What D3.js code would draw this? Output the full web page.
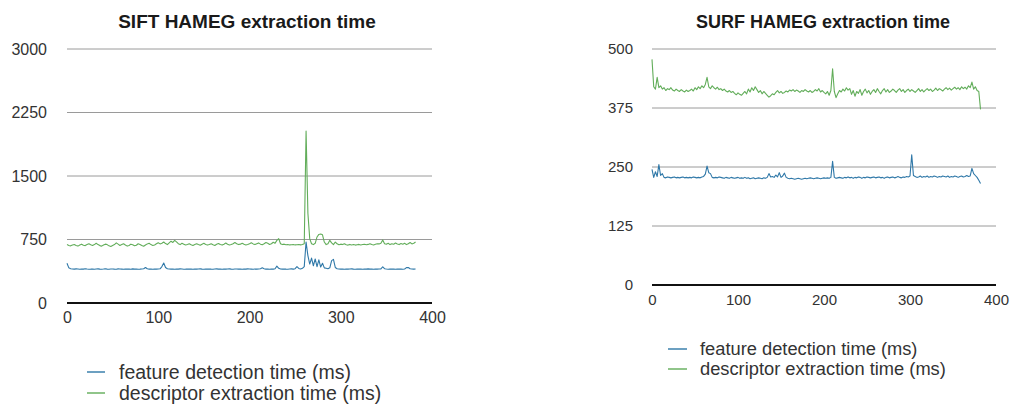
<!DOCTYPE html>
<html><head><meta charset="utf-8">
<script src="https://cdn.jsdelivr.net/npm/d3@7"></script>
<style>
html,body{margin:0;padding:0;background:#fff;}
svg{display:block;font-family:"Liberation Sans",Arial,Helvetica,sans-serif;}
</style></head>
<body><svg id="c" width="1011" height="408"></svg>
<script>
// sample spacing on the x axis (frame index step)
const sampleStep = 2;
const xTicks = [0, 100, 200, 300, 400];
const siftYTicks = [0, 750, 1500, 2250, 3000];
const surfYTicks = [0, 125, 250, 375, 500];
const seriesNames = ["feature detection time (ms)", "descriptor extraction time (ms)"];
const titles = ["SIFT HAMEG extraction time", "SURF HAMEG extraction time"];

const siftDetect = [
470,415,405,402,400,403,401,399,402,400,
404,401,399,400,402,398,401,403,400,399,
401,404,400,398,401,402,400,399,403,401,
400,398,402,400,401,399,403,400,401,399,
400,402,405,420,404,400,401,399,402,400,
401,404,430,472,420,405,401,400,402,399,
401,400,403,401,399,400,402,400,401,399,
402,400,401,403,400,399,401,400,402,400,
399,401,403,400,401,399,402,400,401,403,
400,399,401,402,400,401,399,402,400,403,
401,400,399,402,400,401,404,415,405,400,
401,399,402,400,405,435,410,401,400,402,
400,399,401,403,400,405,430,408,402,410,
430,720,560,460,530,440,520,430,510,425,
470,415,410,405,415,500,515,420,405,402,
400,401,399,402,400,401,403,400,399,401,
400,402,399,401,400,403,400,401,399,402,
400,401,402,428,405,401,399,402,400,401,
399,402,400,401,399,402,418,420,405,402,
400,401];

const siftDescr = [
690,680,675,685,690,680,672,685,695,682,
678,690,700,688,680,690,705,690,678,672,
685,695,690,675,668,680,690,710,695,680,
690,700,685,672,680,695,688,676,682,700,
692,680,670,685,698,705,690,680,686,700,
712,698,705,720,702,690,710,730,715,740,
722,700,690,705,695,685,690,700,688,680,
692,700,690,682,695,705,692,684,690,700,
688,680,694,702,690,684,695,708,694,686,
690,700,714,700,690,695,706,694,686,692,
700,712,698,690,700,710,695,688,700,715,
705,692,700,718,705,740,760,700,690,695,
688,690,686,688,690,686,688,690,687,690,
700,2030,1060,760,700,690,705,780,810,815,
805,720,690,700,740,710,690,720,700,688,
695,690,700,688,684,692,686,690,684,688,
692,686,690,694,688,692,700,690,686,694,
700,698,705,745,700,695,705,690,700,694,
708,696,690,702,695,705,690,700,715,698,
705,720];

const surfDetect = [
245,228,240,230,255,232,236,228,227,229,
228,227,228,229,227,228,227,228,229,227,
228,227,228,227,229,228,227,228,227,229,
230,235,252,238,236,228,227,228,227,229,
228,227,226,228,227,226,228,227,226,227,
228,226,227,226,228,226,227,225,226,227,
225,226,227,226,225,227,226,228,236,229,
230,228,233,229,238,228,231,237,228,226,
225,226,225,224,225,226,225,224,225,226,
225,226,227,226,225,226,227,226,225,226,
227,226,227,226,228,262,228,226,227,228,
227,226,228,227,229,227,228,226,228,227,
229,228,226,228,227,229,228,227,228,229,
227,228,229,227,228,226,228,229,227,228,
229,227,228,230,228,227,229,228,230,229,
231,276,232,230,228,229,231,228,230,229,
231,228,230,229,231,230,228,230,229,231,
230,229,231,228,230,229,231,230,228,230,
231,229,230,232,230,231,247,236,232,228,
222,215];

const surfDescr = [
478,420,415,440,418,422,415,418,412,416,
414,418,413,411,415,412,410,414,411,409,
413,410,412,415,411,418,414,420,416,422,
418,425,440,420,416,422,418,415,419,414,
416,412,415,411,409,412,408,410,406,403,
407,404,402,406,410,405,415,409,418,412,
420,414,408,412,405,410,406,402,398,401,
405,403,408,412,407,410,406,408,411,409,
413,411,414,410,413,411,408,412,410,414,
411,409,412,408,410,414,411,416,409,412,
408,405,410,402,412,458,410,397,405,412,
409,415,411,418,413,416,404,412,400,410,
406,414,402,410,415,407,412,404,410,414,
408,416,410,405,412,416,409,414,408,411,
415,412,408,413,416,410,414,408,412,415,
410,414,411,408,412,416,410,414,409,413,
416,412,415,410,413,417,412,416,414,411,
415,418,414,417,413,416,419,415,418,414,
420,416,419,415,422,418,430,415,420,412,
410,372];

const colors = ["#2f78a8", "#62ad5a"];
const svg = d3.select("#c");

function chart(cfg) {
  const x = d3.scaleLinear().domain([0, 400]).range([cfg.x0, cfg.x1]);
  const y = d3.scaleLinear().domain([0, cfg.yTicks[cfg.yTicks.length - 1]]).range([cfg.y0, cfg.y1]);
  const g = svg.append("g");
  g.append("text").attr("x", cfg.titleX).attr("y", 28).attr("text-anchor", "middle")
    .attr("font-size", cfg.titleSize).attr("font-weight", "bold").attr("fill", "#1a1a1a").text(cfg.title);
  g.selectAll(".grid").data(cfg.yTicks.filter(d => d > 0)).join("line")
    .attr("x1", cfg.x0).attr("x2", cfg.x1).attr("y1", d => y(d)).attr("y2", d => y(d))
    .attr("stroke", "#9a9a9a").attr("stroke-width", 1);
  const ya = d3.axisLeft(y).tickValues(cfg.yTicks).tickFormat(d3.format("d")).tickSize(0).tickPadding(0);
  const yg = g.append("g").attr("transform", `translate(${cfg.yLabelX},0)`).call(ya);
  yg.select(".domain").remove();
  yg.selectAll("text").attr("font-size", cfg.tickSize).attr("fill", "#333")
    .attr("font-family", '"Liberation Sans",Arial,sans-serif');
  const xa = d3.axisBottom(x).tickValues(xTicks).tickFormat(d3.format("d")).tickSize(0).tickPadding(cfg.xPad);
  const xg = g.append("g").attr("transform", `translate(0,${cfg.y0})`).call(xa);
  xg.select(".domain").remove();
  xg.selectAll("text").attr("font-size", cfg.tickSize).attr("fill", "#333")
    .attr("font-family", '"Liberation Sans",Arial,sans-serif');
  g.append("line").attr("x1", cfg.x0).attr("x2", cfg.x1).attr("y1", y(0)).attr("y2", y(0))
    .attr("stroke", "#111").attr("stroke-width", 2);
  const line = d3.line().x((d, i) => x(i * sampleStep)).y(d => y(d));
  cfg.series.forEach((s, k) => {
    g.append("path").datum(s).attr("d", line).attr("fill", "none")
      .attr("stroke", colors[k]).attr("stroke-width", 1.1).attr("stroke-linejoin", "round");
  });
  seriesNames.forEach((n, k) => {
    const ly = cfg.legY + k * cfg.legGap;
    g.append("line").attr("x1", cfg.legX).attr("x2", cfg.legX + cfg.legLen)
      .attr("y1", ly).attr("y2", ly).attr("stroke", colors[k]).attr("stroke-width", 2).attr("opacity", 0.7);
    g.append("text").attr("x", cfg.legTextX).attr("y", ly).attr("dy", "0.35em")
      .attr("font-size", cfg.legSize).attr("fill", "#333").text(n);
  });
}

chart({
  title: titles[0], titleX: 247, titleSize: 19,
  x0: 67, x1: 432, y0: 303, y1: 49, yTicks: siftYTicks, yLabelX: 47,
  tickSize: 16, xPad: 9,
  series: [siftDetect, siftDescr],
  legX: 87, legLen: 18, legTextX: 119, legY: 372, legGap: 21, legSize: 19.5
});
chart({
  title: titles[1], titleX: 823, titleSize: 18,
  x0: 652, x1: 996, y0: 285, y1: 49, yTicks: surfYTicks, yLabelX: 633,
  tickSize: 15, xPad: 9,
  series: [surfDetect, surfDescr],
  legX: 668, legLen: 19, legTextX: 700, legY: 349, legGap: 20, legSize: 18.3
});
</script></body></html>
